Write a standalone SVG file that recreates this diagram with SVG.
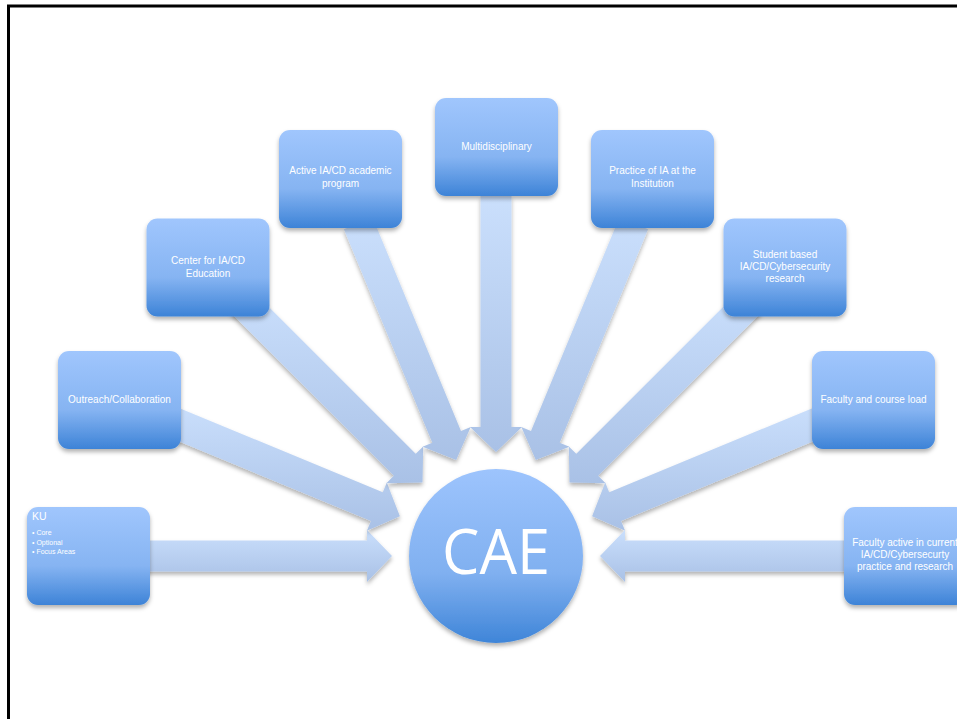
<svg xmlns="http://www.w3.org/2000/svg" width="957" height="719" viewBox="0 0 957 719">
<defs>
<linearGradient id="boxGrad" x1="0" y1="0" x2="0" y2="1">
<stop offset="0" stop-color="#a0c6fd"/>
<stop offset="0.6" stop-color="#86b4f2"/>
<stop offset="1" stop-color="#3d83d7"/>
</linearGradient>
<linearGradient id="circGrad" x1="0" y1="0" x2="0" y2="1">
<stop offset="0" stop-color="#9dc4fd"/>
<stop offset="0.6" stop-color="#80b0f0"/>
<stop offset="1" stop-color="#3f85d8"/>
</linearGradient>
<linearGradient id="arrowGrad" x1="0" y1="0" x2="0" y2="1">
<stop offset="0" stop-color="#cadffc"/>
<stop offset="1" stop-color="#a9c1e6"/>
</linearGradient>
<filter id="shadow" x="-20%" y="-20%" width="140%" height="150%">
<feDropShadow dx="0" dy="3" stdDeviation="2" flood-color="#000" flood-opacity="0.3"/>
</filter>
</defs>
<style>
.box{fill:url(#boxGrad);filter:url(#shadow)}
.arrow{fill:url(#arrowGrad);filter:url(#shadow)}
.lbl{font-family:"Liberation Sans",Arial,sans-serif;font-size:10px;fill:#ffffff;text-anchor:middle}
.small{font-family:"Liberation Sans",Arial,sans-serif;font-size:7px;fill:#ffffff}
.frame{fill:none;stroke:#000;stroke-width:3}
</style>
<rect width="957" height="719" fill="#ffffff"/>
<path class="frame" d="M8.5,719 V6 H957"/>

<g id="connectors">
<polygon class="arrow" points="136,540.5 367,540.5 367,530 392,556 367,582 367,571.5 136,571.5"/>
<polygon class="arrow" points="169.3,403.9 382.8,492.3 386.8,482.6 399.9,516.2 366.9,530.7 370.9,521.0 157.5,432.6"/>
<polygon class="arrow" points="252.4,290.5 415.7,453.8 423.2,446.4 422.5,482.5 386.4,483.2 393.8,475.7 230.5,312.4"/>
<polygon class="arrow" points="372.6,217.5 461.0,430.9 470.7,426.9 456.2,459.9 422.6,446.8 432.3,442.8 343.9,229.3"/>
<polygon class="arrow" points="511.5,196 511.5,427 522,427 496,452 470,427 480.5,427 480.5,196"/>
<polygon class="arrow" points="619.4,217.5 531.0,430.9 521.3,426.9 535.8,459.9 569.4,446.8 559.7,442.8 648.1,229.3"/>
<polygon class="arrow" points="739.6,290.5 576.3,453.8 568.8,446.4 569.5,482.5 605.6,483.2 598.2,475.7 761.5,312.4"/>
<polygon class="arrow" points="822.7,403.9 609.2,492.3 605.2,482.6 592.1,516.2 625.1,530.7 621.1,521.0 834.5,432.6"/>
<polygon class="arrow" points="856,571.5 625,571.5 625,582 600,556 625,530 625,540.5 856,540.5"/>
</g>

<g id="node-cae">
<circle cx="496" cy="556" r="87" fill="url(#circGrad)" filter="url(#shadow)"/>
<text x="496" y="574" font-family="'Open Sans','Liberation Sans',sans-serif" font-size="62" fill="#fff" text-anchor="middle" textLength="108" lengthAdjust="spacingAndGlyphs">CAE</text>
</g>

<g id="node-ku">
<rect class="box" x="27" y="507" width="123" height="98" rx="11"/>
<text x="32" y="520" font-family="'Liberation Sans',Arial,sans-serif" font-size="10.5" fill="#fff">KU</text>
<text class="small" x="32" y="535">• Core</text>
<text class="small" x="32" y="544.5">• Optional</text>
<text class="small" x="32" y="554">• Focus Areas</text>
</g>

<g id="node-outreach">
<rect class="box" x="58" y="351" width="123" height="98" rx="11"/>
<text class="lbl" x="119.5" y="403">Outreach/Collaboration</text>
</g>

<g id="node-center">
<rect class="box" x="146.5" y="218.5" width="123" height="98" rx="11"/>
<text class="lbl" x="208" y="264">Center for IA/CD</text>
<text class="lbl" x="208" y="277">Education</text>
</g>

<g id="node-active">
<rect class="box" x="279" y="130" width="123" height="98" rx="11"/>
<text class="lbl" x="340.5" y="174">Active IA/CD academic</text>
<text class="lbl" x="340.5" y="187">program</text>
</g>

<g id="node-multi">
<rect class="box" x="435" y="98" width="123" height="98" rx="11"/>
<text class="lbl" x="496.5" y="150">Multidisciplinary</text>
</g>

<g id="node-practice">
<rect class="box" x="591" y="130" width="123" height="98" rx="11"/>
<text class="lbl" x="652.5" y="174">Practice of IA at the</text>
<text class="lbl" x="652.5" y="187">Institution</text>
</g>

<g id="node-student">
<rect class="box" x="723.5" y="218.5" width="123" height="98" rx="11"/>
<text class="lbl" x="785" y="258">Student based</text>
<text class="lbl" x="785" y="270">IA/CD/Cybersecurity</text>
<text class="lbl" x="785" y="282">research</text>
</g>

<g id="node-faculty-load">
<rect class="box" x="812" y="351" width="123" height="98" rx="11"/>
<text class="lbl" x="873.5" y="403">Faculty and course load</text>
</g>

<g id="node-faculty-active">
<rect class="box" x="844" y="507" width="123" height="98" rx="11"/>
<text class="lbl" x="905" y="546">Faculty active in current</text>
<text class="lbl" x="905" y="558">IA/CD/Cybersecurty</text>
<text class="lbl" x="905" y="570">practice and research</text>
</g>
</svg>
